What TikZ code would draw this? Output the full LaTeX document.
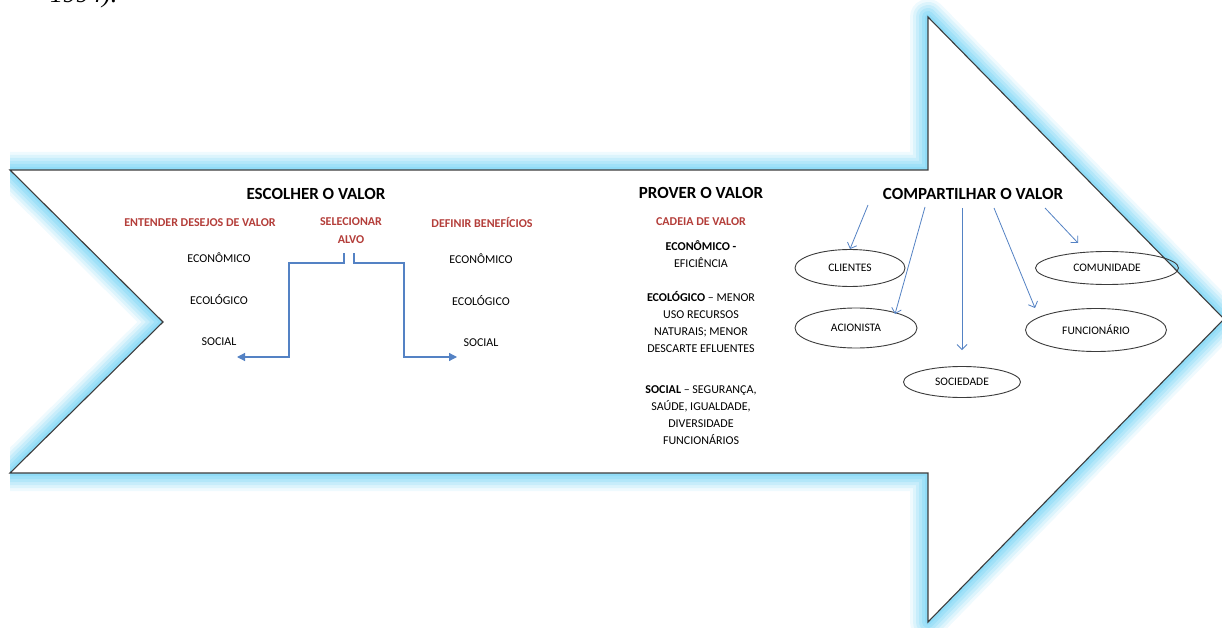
\documentclass[tikz,border=0pt]{standalone}
\usepackage{fontspec}
\setmainfont{Carlito}
\newfontfamily\quotefont{Liberation Serif}
\usetikzlibrary{arrows.meta, positioning, shapes.geometric}
\definecolor{valred}{RGB}{180, 62, 58}
\definecolor{linkblue}{RGB}{84, 130, 196}
\definecolor{glowcyan}{RGB}{120, 212, 245}
\definecolor{edgegray}{RGB}{60, 60, 60}

\begin{document}
\begin{tikzpicture}[x=1pt, y=-1pt,
  bighead/.style={font=\fontsize{17}{19}\selectfont\bfseries},
  redhead/.style={font=\fontsize{12}{18}\selectfont\bfseries, text=valred, align=center},
  smalltxt/.style={font=\fontsize{12}{17}\selectfont, align=center, inner sep=0pt},
  party/.style={draw=edgegray, ellipse, line width=0.9pt, inner sep=0pt, font=\fontsize{11.5}{13}\selectfont},
  linkarrow/.style={draw=linkblue, line width=0.8pt, -{Straight Barb[length=5pt, width=10pt]}},
  bracketarrow/.style={draw=linkblue, line width=1.2pt, -{Triangle[length=8pt, width=8pt]}}
]
  \useasboundingbox (0,0) rectangle (1222,628);

  % outline of the big arrow
  \coordinate (a1) at (10,170);
  \coordinate (a2) at (928,170);
  \coordinate (a3) at (928,17);
  \coordinate (a4) at (1224,319);
  \coordinate (a5) at (928,622);
  \coordinate (a6) at (928,473);
  \coordinate (a7) at (10,473);
  \coordinate (a8) at (163,322);

  \begin{scope}
    \clip (10,0) rectangle (1222,628);
    \foreach \w/\op in {36/0.12, 30/0.16, 24/0.2, 18/0.26, 12/0.32, 6/0.4}
      \draw[glowcyan, line width=\w pt, opacity=\op, line join=round]
        (a1) -- (a2) -- (a3) -- (a4) -- (a5) -- (a6) -- (a7) -- (a8) -- cycle;
  \end{scope}
  \fill[white] (a1) -- (a2) -- (a3) -- (a4) -- (a5) -- (a6) -- (a7) -- (a8) -- cycle;
  \draw[edgegray, line width=1.1pt]
    (a1) -- (a2) -- (a3) -- (a4) -- (a5) -- (a6) -- (a7) -- (a8) -- cycle;

  % cut-off line of the page above
  \node[anchor=base west, inner sep=0pt, font=\quotefont\itshape\fontsize{26}{28}\selectfont] (cite) at (50,3) {1994).};

  % choose the value
  \node[bighead] (choose) at (316,194) {ESCOLHER O VALOR};
  \node[redhead] (wish) at (200,223) {ENTENDER DESEJOS DE VALOR};
  \node[redhead] (sel) at (351,231) {SELECIONAR\\ALVO};
  \node[redhead] (benef) at (482,223) {DEFINIR BENEFÍCIOS};

  \node[smalltxt] (ecoL) at (219,258) {ECONÔMICO};
  \node[smalltxt] (ecolL) at (219,300) {ECOLÓGICO};
  \node[smalltxt] (socL) at (219,342) {SOCIAL};
  \node[smalltxt] (ecoR) at (481,259) {ECONÔMICO};
  \node[smalltxt] (ecolR) at (481,301) {ECOLÓGICO};
  \node[smalltxt] (socR) at (481,343) {SOCIAL};

  \coordinate (selL) at (344,253);
  \coordinate (selR) at (354,253);
  \coordinate (toL) at (237,357);
  \coordinate (toR) at (457,357);
  \draw[bracketarrow] (selL) -- ++(0,10) -- ++(-55,0) |- (toL);
  \draw[bracketarrow] (selR) -- ++(0,10) -- ++(50,0) |- (toR);

  % provide the value
  \node[bighead] (provide) at (701,193) {PROVER O VALOR};
  \node[redhead] (chain) at (701,222) {CADEIA DE VALOR};
  \node[smalltxt] (prov1) at (701,254) {\textbf{ECONÔMICO -}\\EFICIÊNCIA};
  \node[smalltxt] (prov2) at (701,322) {\textbf{ECOLÓGICO} -- MENOR\\USO RECURSOS\\NATURAIS; MENOR\\DESCARTE EFLUENTES};
  \node[smalltxt] (prov3) at (701,415) {\textbf{SOCIAL} -- SEGURANÇA,\\SAÚDE, IGUALDADE,\\DIVERSIDADE\\FUNCIONÁRIOS};

  % share the value
  \node[bighead] (share) at (973,194) {COMPARTILHAR O VALOR};
  \node[party, minimum width=110pt, minimum height=37pt] (cli) at (850,268) {CLIENTES};
  \node[party, minimum width=122pt, minimum height=40pt] (aci) at (856,328) {ACIONISTA};
  \node[party, minimum width=117pt, minimum height=31pt] (soc) at (962,382) {SOCIEDADE};
  \node[party, minimum width=143pt, minimum height=33pt] (com) at (1107,268) {COMUNIDADE};
  \node[party, minimum width=141pt, minimum height=43pt] (fun) at (1096,330) {FUNCIONÁRIO};

  \coordinate (s1) at (868,205);
  \coordinate (s2) at (925,207);
  \coordinate (s3) at (962,208);
  \coordinate (s4) at (994,208);
  \coordinate (s5) at (1045,208);
  \coordinate (e2) at (895,314);
  \coordinate (e4) at (1035,308);
  \coordinate (e5) at (1078,243);
  \draw[linkarrow] (s1) -- (cli.north);
  \draw[linkarrow] (s2) -- (e2);
  \draw[linkarrow, shorten >=16pt] (s3) -- (soc.north);
  \draw[linkarrow] (s4) -- (e4);
  \draw[linkarrow] (s5) -- (e5);
\end{tikzpicture}
\end{document}
